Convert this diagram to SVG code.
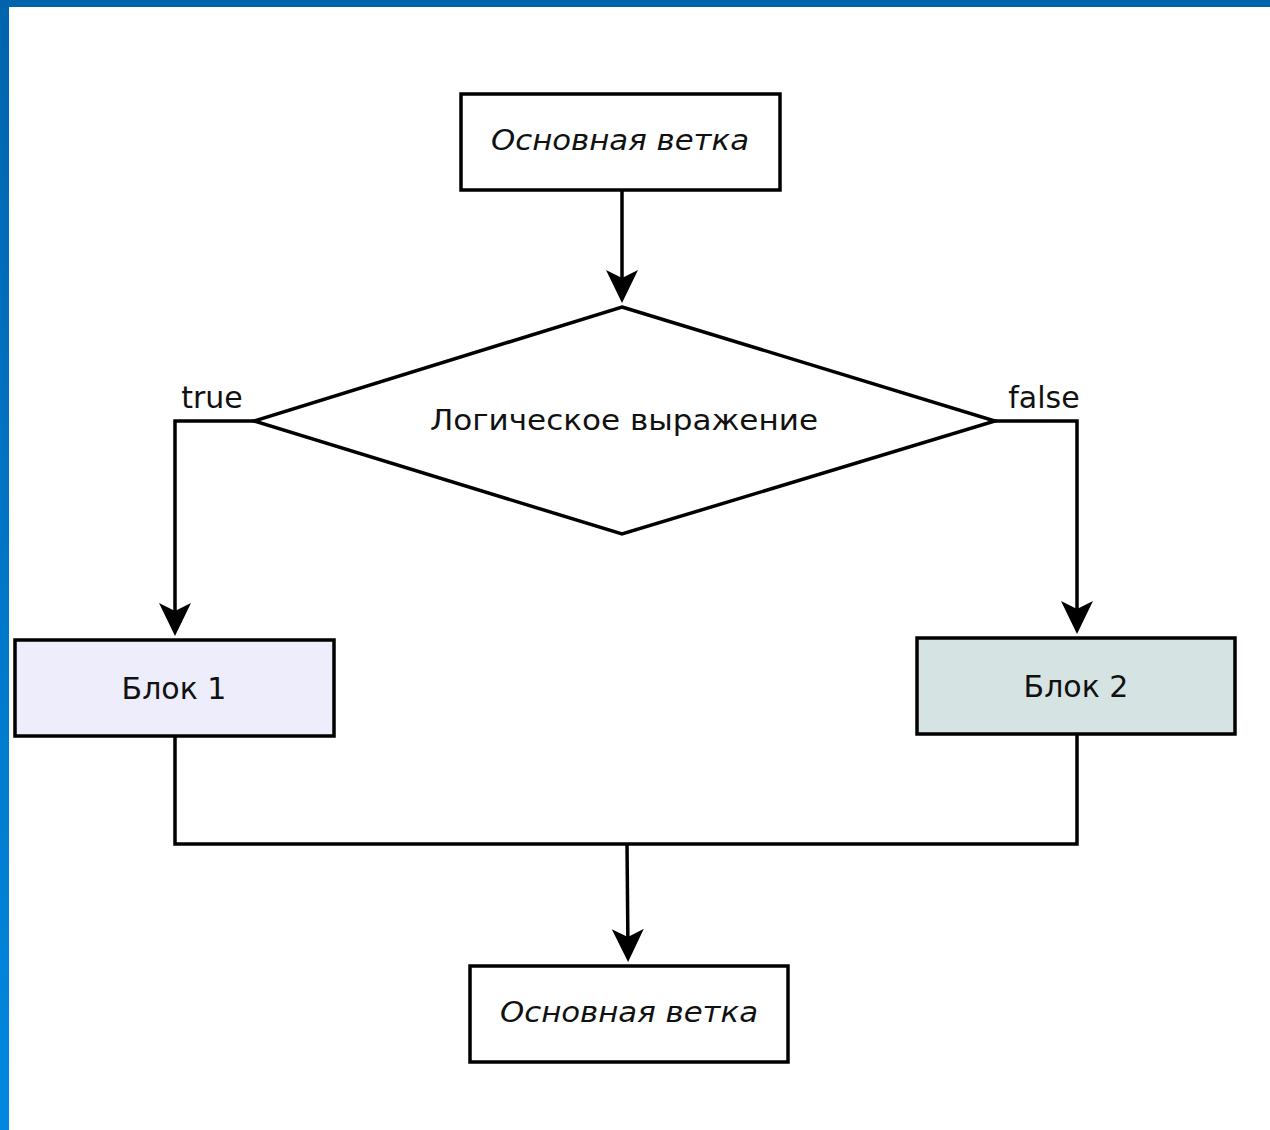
<svg xmlns="http://www.w3.org/2000/svg" width="1270" height="1130" viewBox="0 0 1270 1130">
<style>
.box{stroke:#000;stroke-width:3.5}
.lbl{font-family:"DejaVu Sans","Liberation Sans",sans-serif;font-size:28px;fill:#111;text-anchor:middle}
.big{font-size:30px}
.it{font-style:italic}
.conn{fill:none;stroke:#000;stroke-width:3.5}
</style>
<defs>
<linearGradient id="blue" x1="0" y1="0" x2="0" y2="1">
<stop offset="0" stop-color="#0064ad"/>
<stop offset="1" stop-color="#0088e0"/>
</linearGradient>
<marker id="arr" markerUnits="userSpaceOnUse" viewBox="0 0 33 34" refX="23" refY="17" markerWidth="33" markerHeight="34" orient="auto">
<path d="M33,17 L0,1 L8,17 L0,33 Z" fill="#000"/>
</marker>
</defs>
<rect x="0" y="0" width="1270" height="1130" fill="#fff"/>
<rect x="0" y="0" width="1270" height="7" fill="#0064ad"/>
<rect x="0" y="0" width="9" height="1130" fill="url(#blue)"/>

<g id="connectors">
<path class="conn" d="M622,190 L622,293" marker-end="url(#arr)"/>
<path class="conn" d="M254,421 L175,421 L175,626" marker-end="url(#arr)"/>
<path class="conn" d="M995,421 L1077,421 L1077,624" marker-end="url(#arr)"/>
<path class="conn" d="M175,736 L175,844 L1077,844 L1077,734"/>
<path class="conn" d="M627,844 L628,952" marker-end="url(#arr)"/>
<text class="lbl big" x="212" y="408">true</text>
<text class="lbl big" x="1044" y="408">false</text>
</g>

<g id="start">
<rect class="box" x="461" y="94" width="319" height="96" fill="#fff"/>
<text class="lbl it" x="620" y="150" textLength="258" lengthAdjust="spacingAndGlyphs">Основная ветка</text>
</g>

<g id="decision">
<polygon class="box" points="622,307 995,421 622,534 254,421" fill="#fff"/>
<text class="lbl" x="624" y="430" textLength="388" lengthAdjust="spacingAndGlyphs">Логическое выражение</text>
</g>

<g id="block1">
<rect class="box" x="15" y="640" width="319" height="96" fill="#ededfb"/>
<text class="lbl big" x="174" y="699">Блок 1</text>
</g>

<g id="block2">
<rect class="box" x="917" y="638" width="318" height="96" fill="#d6e3e3"/>
<text class="lbl big" x="1076" y="697">Блок 2</text>
</g>

<g id="end">
<rect class="box" x="470" y="966" width="318" height="96" fill="#fff"/>
<text class="lbl it" x="629" y="1022" textLength="258" lengthAdjust="spacingAndGlyphs">Основная ветка</text>
</g>
</svg>
